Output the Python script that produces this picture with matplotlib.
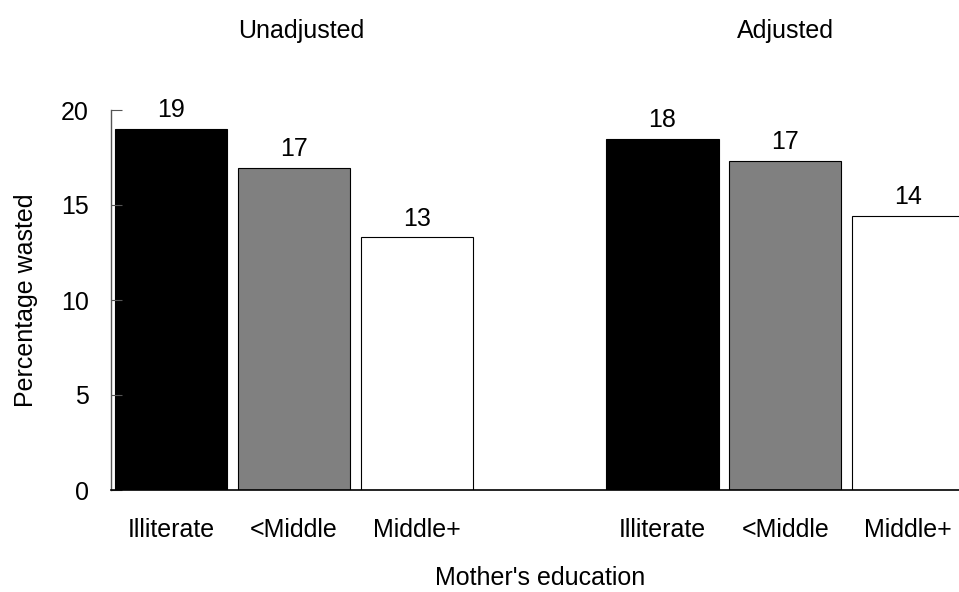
import matplotlib.pyplot as plt
from matplotlib.transforms import blended_transform_factory

plt.rcParams['font.family'] = ['Liberation Sans', 'DejaVu Sans']

groups = ['Unadjusted', 'Adjusted']
categories = ['Illiterate', '<Middle', 'Middle+']
unadjusted = [18.99, 16.94, 13.29]
adjusted = [18.46, 17.32, 14.41]
bar_colors = ['black', '#808080', 'white']
fs = 18

fig = plt.figure(figsize=(9.59, 5.92), dpi=100)
ax = fig.add_axes([111 / 959, 102 / 592, 858.4 / 959, 380 / 592])

pos_u = [0, 1, 2]
pos_a = [4, 5, 6]
for pos, vals in [(pos_u, unadjusted), (pos_a, adjusted)]:
    ax.bar(pos, vals, width=0.915, color=bar_colors, edgecolor='black', linewidth=0.8)
    for x, v in zip(pos, vals):
        ax.annotate(str(round(v)), (x, v), xytext=(0, 5), textcoords='offset points',
                    ha='center', va='bottom', fontsize=fs)

ax.set_xlim(-0.49, 6.5)
ax.set_ylim(0, 20)
ax.set_yticks([0, 5, 10, 15, 20])
ax.set_xticks(pos_u + pos_a)
ax.set_xticklabels(categories + categories)
ax.tick_params(axis='y', direction='in', length=8, pad=15.8, labelsize=fs, color='#555555')
ax.tick_params(axis='x', length=0, pad=20.5, labelsize=fs)

for s in ['top', 'right']:
    ax.spines[s].set_visible(False)
ax.spines['left'].set_color('#555555')
ax.spines['left'].set_linewidth(1)
ax.spines['bottom'].set_linewidth(1.2)

ax.set_ylabel('Percentage wasted', fontsize=fs, labelpad=17)
ax.set_xlabel("Mother's education", fontsize=fs, labelpad=17)

trans = blended_transform_factory(ax.transData, fig.transFigure)
ax.text(1.06, 1 - 38 / 592, groups[0], transform=trans, ha='center', va='baseline', fontsize=fs)
ax.text(5, 1 - 38 / 592, groups[1], transform=trans, ha='center', va='baseline', fontsize=fs)

fig.savefig('out.png', dpi=100)
